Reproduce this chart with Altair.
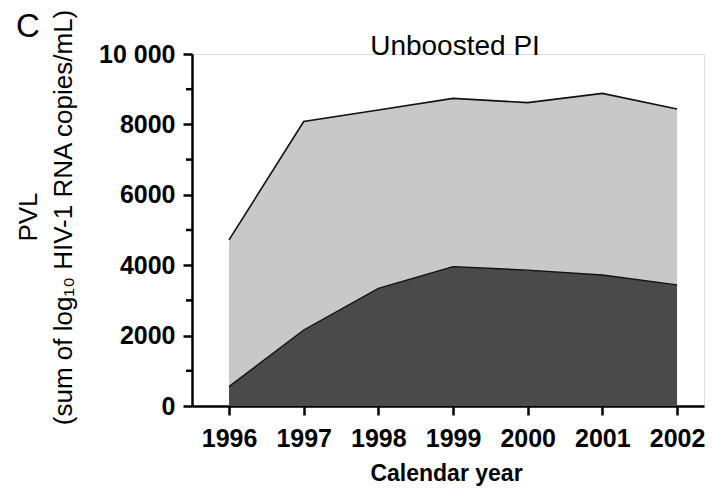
import altair as alt
import pandas as pd

# Data
years = [1996, 1997, 1998, 1999, 2000, 2001, 2002]
total_pvl = [4720, 8080, 8410, 8740, 8620, 8880, 8440]   # upper boundary (light grey area)
lower_pvl = [550, 2160, 3340, 3960, 3860, 3720, 3440]    # dark area
y_major_ticks = [0, 2000, 4000, 6000, 8000, 10000]
y_minor_ticks = [1000, 3000, 5000, 7000, 9000]

FONT = "Liberation Sans"

df = pd.DataFrame({"year": years, "total": total_pvl, "lower": lower_pvl})
minor_df = pd.DataFrame({"v": y_minor_ticks})

xscale = alt.Scale(domain=[1995.504, 2002.361], nice=False, zero=False)
yscale = alt.Scale(domain=[0, 10000], nice=False)

xaxis = alt.Axis(
    values=years, format="d", title="Calendar year",
    labelFont=FONT, labelFontSize=25, labelFontWeight="bold", labelColor="black",
    labelPadding=11, labelFlush=False,
    titleFont=FONT, titleFontSize=23, titleFontWeight="bold", titleColor="black",
    titlePadding=11, titleX=254,
    tickSize=9, tickWidth=2.5, tickColor="black",
    domainWidth=2.5, domainColor="black", grid=False,
)

yaxis = alt.Axis(
    values=y_major_ticks,
    labelExpr="datum.value === 10000 ? '10 000' : toString(datum.value)",
    title=None,
    labelFont=FONT, labelFontSize=25, labelFontWeight="bold", labelColor="black",
    labelPadding=8,
    tickSize=9, tickWidth=2.5, tickColor="black",
    domainWidth=2.5, domainColor="black", grid=False,
)

base = alt.Chart(df)

light = base.mark_area(color="#c8c8c8", opacity=1,
                       line={"color": "#111111", "strokeWidth": 1.6}).encode(
    x=alt.X("year:Q", scale=xscale, axis=xaxis),
    y=alt.Y("total:Q", scale=yscale, axis=yaxis),
)

dark = base.mark_area(color="#4a4a4a", opacity=1,
                      line={"color": "#111111", "strokeWidth": 1.4}).encode(
    x=alt.X("year:Q", scale=xscale),
    y=alt.Y("lower:Q", scale=yscale),
)

minor = alt.Chart(minor_df).mark_rule(color="black", strokeWidth=2.5, clip=False).encode(
    y=alt.Y("v:Q", scale=yscale),
    x=alt.value(-6), x2=alt.value(0),
)

def label(text, x, y, size, angle=0, weight="normal", align="center", baseline="alphabetic"):
    return alt.Chart(pd.DataFrame({"t": [text]})).mark_text(
        font=FONT, fontSize=size, fontWeight=weight, color="black",
        angle=angle, align=align, baseline=baseline,
    ).encode(text="t:N", x=alt.value(x), y=alt.value(y))

panel = label("C", -164, -17, 33)
title = label("Unboosted PI", 263, 1, 28)
pvl = label("PVL", -155, 163, 26, angle=270)
sub = label("(sum of log\u2081\u2080 HIV-1 RNA copies/mL)", -120, 163.5, 26, angle=270)

chart = alt.layer(light, dark, minor, panel, title, pvl, sub).properties(
    width=512, height=352,
    autosize=alt.AutoSizeParams(type="none"),
    padding={"left": 184, "top": 46, "right": 3, "bottom": 80},
).configure_view(stroke=None).configure(background="white")

chart.save("out.html", embed_options={"renderer": "svg", "actions": False})
